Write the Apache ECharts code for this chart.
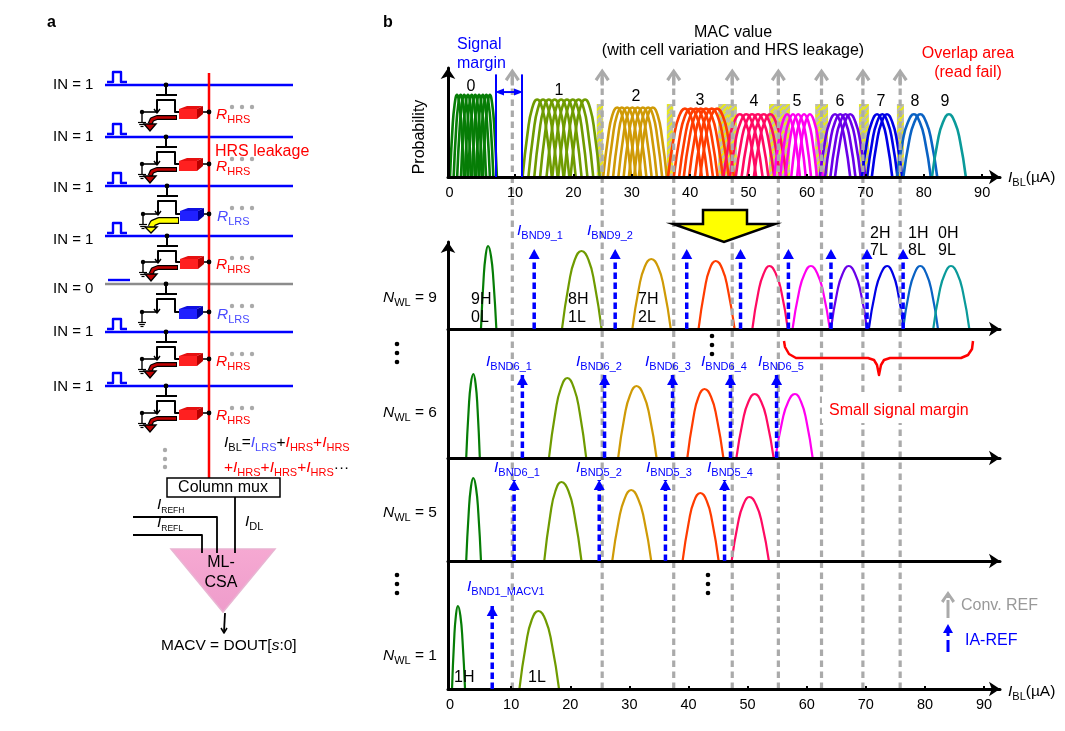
<!DOCTYPE html>
<html><head><meta charset="utf-8">
<style>html,body{margin:0;padding:0;background:#fff}#c{width:1065px;height:731px}</style>
<script src="https://cdn.jsdelivr.net/npm/echarts@6/dist/echarts.min.js"></script>
</head><body><div id="c"></div>
<script>
// ---------- data ----------
const stateColors = ['#067d06','#6f9b00','#cf9a06','#ff3c00','#ff0a62','#ff00f0','#6a00e8','#0000e6','#0a62c4','#0a9a9a'];
const axisTicks = [10,20,30,40,50,60,70,80,90];
const axisTickLabels = [0,10,20,30,40,50,60,70,80,90];
// top panel: curve centres (uA) of each MAC value and the profile of one curve (offset uA, probability)
const topCentres = [
 [0.07,0.7,1.3,1.95,2.6,3.2,3.85,4.5,5.1,5.7],
 [13.8,14.8,15.8,16.8,17.9,18.9,19.9,20.9,22.0],
 [27.5,28.3,29.2,30.1,31.0,31.9,32.8,33.6],
 [39.1,40.1,41.0,41.8,42.7,43.7,44.6],
 [48.5,49.6,50.6,51.6,52.6,53.7],
 [56.6,57.6,58.5,59.5,60.5],
 [64.8,65.7,66.6,67.4],
 [72.0,72.9,73.7],
 [78.3,79.4],
 [84.3]];
const topProfiles = [
 [[-1.2,0],[-.78,.42],[-.42,.63],[0,.72],[.42,.63],[.78,.42],[1.2,0]],
 [[-2.5,0],[-1.63,.39],[-.88,.60],[0,.68],[.88,.60],[1.63,.39],[2.5,0]],
 [[-2.4,0],[-1.56,.35],[-.84,.54],[0,.61],[.84,.54],[1.56,.35],[2.4,0]],
 [[-2.9,0],[-1.89,.35],[-1.02,.53],[0,.60],[1.02,.53],[1.89,.35],[2.9,0]],
 [[-2.8,0],[-1.82,.32],[-.98,.48],[0,.55],[.98,.48],[1.82,.32],[2.8,0]],
 [[-2.2,0],[-1.43,.32],[-.77,.48],[0,.55],[.77,.48],[1.43,.32],[2.2,0]],
 [[-2.6,0],[-1.69,.32],[-.91,.48],[0,.55],[.91,.48],[1.69,.32],[2.6,0]],
 [[-2.6,0],[-1.69,.32],[-.91,.48],[0,.55],[.91,.48],[1.69,.32],[2.6,0]],
 [[-2.9,0],[-1.89,.32],[-1.02,.48],[0,.55],[1.02,.48],[1.89,.32],[2.9,0]],
 [[-2.9,0],[-1.89,.32],[-1.02,.48],[0,.55],[1.02,.48],[1.89,.32],[2.9,0]]];
const overlapAreas = [[24.0,25.1,.64],[36.0,37.1,.64],[44.8,48.0,.64],[53.5,57.1,.64],[61.4,63.6,.64],[68.9,70.6,.64],[75.4,76.6,.64]];
const marginLines = [6.75,11.2];
const marginHeight = .90;
const marginArrowLevel = .745;
// lower panels: x and probability of each curve, one row per MAC value
const nwl9X = [
 [4.9,5.32,5.68,6.1,6.59,7.01,7.5],
 [18.6,19.76,20.75,21.9,23.09,24.11,25.3],
 [30.5,31.62,32.58,33.7,34.86,35.85,37],
 [41.7,42.72,43.59,44.6,45.72,46.68,47.8],
 [50.8,51.82,52.69,53.7,54.79,55.72,56.8],
 [57.6,58.69,59.62,60.7,61.82,62.78,63.9],
 [64.1,65.15,66.05,67.1,68.19,69.12,70.2],
 [70.5,71.59,72.52,73.6,74.58,75.42,76.4],
 [76.3,77.32,78.19,79.2,80.25,81.15,82.2],
 [81.4,82.45,83.35,84.4,85.49,86.42,87.5]];
const nwl9Y = [
 [0,.48,.73,.83,.73,.48,0],
 [0,.45,.69,.78,.69,.45,0],
 [0,.41,.62,.70,.62,.41,0],
 [0,.39,.60,.68,.60,.39,0],
 [0,.37,.55,.63,.55,.37,0],
 [0,.37,.55,.63,.55,.37,0],
 [0,.37,.55,.63,.55,.37,0],
 [0,.37,.55,.63,.55,.37,0],
 [0,.37,.55,.63,.55,.37,0],
 [0,.37,.55,.63,.55,.37,0]];
const nwl6X = [
 [2.4,2.82,3.18,3.6,3.99,4.32,4.7],
 [16.4,17.49,18.42,19.5,20.62,21.58,22.7],
 [28.1,29.19,30.12,31.2,32.39,33.41,34.6],
 [39.8,40.82,41.69,42.7,43.82,44.78,45.9],
 [48.1,49.19,50.12,51.2,52.32,53.28,54.4],
 [54.7,55.86,56.85,58,59.05,59.95,61]];
const nwl6Y = [
 [0,.49,.74,.84,.74,.49,0],
 [0,.46,.70,.80,.70,.46,0],
 [0,.42,.63,.72,.63,.42,0],
 [0,.40,.61,.69,.61,.40,0],
 [0,.37,.56,.64,.56,.37,0],
 [0,.37,.56,.64,.56,.37,0]];
const nwl5X = [
 [2.4,2.82,3.18,3.6,4.06,4.45,4.9],
 [15.6,16.62,17.49,18.5,19.69,20.71,21.9],
 [27.1,28.22,29.18,30.3,31.49,32.51,33.7],
 [39,40.05,40.95,42,43.09,44.02,45.1],
 [47.3,48.35,49.25,50.3,51.46,52.45,53.6]];
const nwl5Y = [
 [0,.48,.73,.83,.73,.48,0],
 [0,.46,.70,.79,.70,.46,0],
 [0,.41,.62,.71,.62,.41,0],
 [0,.39,.60,.68,.60,.39,0],
 [0,.37,.56,.64,.56,.37,0]];
const nwl1X = [
 [0,.35,.65,1,1.42,1.78,2.2],
 [11.4,12.52,13.48,14.6,15.82,16.88,18.1]];
const nwl1Y = [
 [0,.48,.73,.83,.73,.48,0],
 [0,.45,.69,.78,.69,.45,0]];
const iaRef9 = [13.9,27.6,39.7,48.8,56.9,64.1,70.2,76.3];
const iaRef6 = [11.9,25.8,37.3,47.1,54.9];
const iaRef5 = [10.5,24.9,36.1,46.1];
const iaRef1 = [6.8];
const iaHeights = [.80,.83,.81,.83];
const convRef = [10.2,25.4,37.5,47.4,55.2,62.5,69.5,75.8];

// ---------- chart ----------
const FONT = '"Liberation Sans",Arial,sans-serif';
const BLUE='#0000ff', RED='#ff0000', GRAY='#aaaaaa';
const hatch = document.createElement('canvas'); hatch.width=8; hatch.height=8;
(function(){const g=hatch.getContext('2d');g.fillStyle='#e9ec10';g.fillRect(0,0,8,8);g.strokeStyle='#bdbdb0';g.lineWidth=2.4;
 [[-2,4,4,-2],[0,8,8,0],[4,10,10,4]].forEach(l=>{g.beginPath();g.moveTo(l[0],l[1]);g.lineTo(l[2],l[3]);g.stroke();});})();

const xBase = {type:'value',splitLine:{show:false},axisTick:{show:false},axisLabel:{show:false},z:5,
  axisLine:{show:true,onZero:false,symbol:['none','arrow'],symbolSize:[11,11],lineStyle:{color:'#000',width:3}}};
const yBase = (arrow,max)=>({type:'value',min:0,max:max,splitLine:{show:false},axisTick:{show:false},axisLabel:{show:false},z:5,
  axisLine:{show:true,onZero:false,symbol:arrow?['none','arrow']:'none',symbolSize:[11,11],lineStyle:{color:'#000',width:3}}});
const labelled = pad => ({
  axisTick:{show:true,inside:true,length:3,customValues:axisTicks,lineStyle:{color:'#000',width:2}},
  axisLabel:{show:true,margin:8,color:'#000',fontSize:14.5,fontFamily:FONT,customValues:axisTickLabels,
    formatter:v=>v===0?'{z|0}':String(v),rich:{z:{fontSize:14.5,fontFamily:FONT,color:'#000',padding:[0,pad,0,0]}}}
});
const TMIN=-1.47,TMAX=93.05,BMIN=-0.68,BMAX=92.69;
const grids=[[68,109],[242,87],[329,129],[458,103],[561,128],[77,612]].map(g=>({left:448,width:552,top:g[0],height:g[1]}));
const xAxes=[
 Object.assign({},xBase,{gridIndex:0,min:TMIN,max:TMAX},labelled(14)),
 Object.assign({},xBase,{gridIndex:1,min:BMIN,max:BMAX}),
 Object.assign({},xBase,{gridIndex:2,min:BMIN,max:BMAX}),
 Object.assign({},xBase,{gridIndex:3,min:BMIN,max:BMAX}),
 Object.assign({},xBase,{gridIndex:4,min:BMIN,max:BMAX},labelled(4)),
 {type:'value',gridIndex:5,min:BMIN,max:BMAX,show:false}
];
const yAxes=[
 Object.assign(yBase(true,.956),{gridIndex:0}),
 Object.assign(yBase(true,.87),{gridIndex:1}),
 Object.assign(yBase(false,1.29),{gridIndex:2}),
 Object.assign(yBase(false,1.03),{gridIndex:3}),
 Object.assign(yBase(false,1.28),{gridIndex:4}),
 {type:'value',gridIndex:5,min:0,max:1,show:false}
];
const series=[];
const curve=(pts,color,g,w)=>series.push({type:'line',xAxisIndex:g,yAxisIndex:g,data:pts,smooth:.5,showSymbol:false,symbol:'none',clip:false,z:3,animation:false,
  lineStyle:{color:color,width:w}});
// hatch
series.push({type:'custom',xAxisIndex:0,yAxisIndex:0,z:1,clip:false,data:overlapAreas,encode:{x:[0,1],y:2},
  renderItem:(p,api)=>{const a=api.coord([api.value(0),api.value(2)]),b=api.coord([api.value(1),0]);
    return {type:'rect',shape:{x:a[0],y:a[1],width:b[0]-a[0],height:b[1]-a[1]},style:{fill:{image:hatch,repeat:'repeat'}}};}});
// top curves
topCentres.forEach((cs,k)=>cs.forEach(c=>curve(topProfiles[k].map(p=>[c+p[0],p[1]]),stateColors[k],0,2.6)));
[[nwl9X,nwl9Y],[nwl6X,nwl6Y],[nwl5X,nwl5Y],[nwl1X,nwl1Y]].forEach((set,i)=>set[0].forEach((xs,k)=>curve(xs.map((x,j)=>[x,set[1][k][j]]),stateColors[k],i+1,2.2)));
// Conv REF
const chevron='path://M0,10 L7,0 L14,10 L11.5,12 L8.5,7 L8.5,16 L5.5,16 L5.5,7 L2.5,12 Z';
convRef.forEach(v=>series.push({type:'line',xAxisIndex:5,yAxisIndex:5,data:[[v,0],[v,1]],z:4,animation:false,
  symbol:(val,p)=>p.dataIndex===1?chevron:'none',symbolSize:[15,17],showAllSymbol:true,itemStyle:{color:GRAY},
  lineStyle:{color:GRAY,width:3.2,type:[6.5,4.5]}}));
// IA REF
[iaRef9,iaRef6,iaRef5,iaRef1].forEach((set,i)=>set.forEach(v=>series.push({type:'line',xAxisIndex:i+1,yAxisIndex:i+1,data:[[v,0],[v,iaHeights[i]]],z:6,animation:false,
  symbol:(val,p)=>p.dataIndex===1?'triangle':'none',symbolSize:[11,10],symbolOffset:[0,'50%'],showAllSymbol:true,itemStyle:{color:BLUE},
  lineStyle:{color:BLUE,width:3.5,type:[6.5,3.5]}})));
// signal margin
marginLines.forEach(v=>series.push({type:'line',xAxisIndex:0,yAxisIndex:0,data:[[v,0],[v,marginHeight]],symbol:'none',z:6,animation:false,lineStyle:{color:BLUE,width:2}}));
series.push({type:'line',xAxisIndex:0,yAxisIndex:0,data:[[marginLines[0]+.6,marginArrowLevel],[marginLines[1]-.6,marginArrowLevel]],z:6,animation:false,
  symbol:'triangle',symbolSize:[7,9],showAllSymbol:true,symbolRotate:(v,p)=>p.dataIndex===0?90:-90,itemStyle:{color:BLUE},lineStyle:{color:BLUE,width:2}});

// ---------- annotations and schematic ----------
const rich={};
[['k','#000'],['b',BLUE],['r',RED],['l','#4a4aff']].forEach(c=>{
  rich['i'+c[0]]={fontFamily:FONT,fontStyle:'italic',fontSize:15.5,lineHeight:20,fill:c[1]};
  rich['n'+c[0]]={fontFamily:FONT,fontSize:15.5,lineHeight:20,fill:c[1]};
  rich['s'+c[0]]={fontFamily:FONT,fontSize:11,verticalAlign:'bottom',fill:c[1]};
  rich['t'+c[0]]={fontFamily:FONT,fontSize:8.5,verticalAlign:'bottom',fill:c[1]};
});
const gr=[];
const Z=100;
const text=(x,y,s,color,opt)=>gr.push(Object.assign({type:'text',z:Z,silent:true,style:Object.assign({x,y,text:s,fill:color||'#000',fontFamily:FONT,fontSize:16,align:'left',verticalAlign:'middle'},opt||{})}));
const rtext=(x,y,s)=>gr.push({type:'text',z:Z,silent:true,style:{x,y,text:s,rich,align:'left',verticalAlign:'middle',fontFamily:FONT,fontSize:15}});
const pl=(pts,color,w,z)=>gr.push({type:'polyline',z:z||Z,silent:true,shape:{points:pts},style:{stroke:color,lineWidth:w,fill:null,lineJoin:'round'}});
const pg=(pts,fill,stroke,w,z)=>gr.push({type:'polygon',z:z||Z,silent:true,shape:{points:pts},style:{fill,stroke:stroke||null,lineWidth:w||0}});
const dot=(x,y,r,c)=>gr.push({type:'circle',z:Z+2,silent:true,shape:{cx:x,cy:y,r},style:{fill:c||'#000'}});

// panel letters
text(47,23,'a','#000',{fontWeight:'bold',fontSize:16});
text(383,23,'b','#000',{fontWeight:'bold',fontSize:16});
// white gap behind label, yellow arrow
gr.push({type:'rect',z:Z-1,silent:true,shape:{x:822,y:392,width:152,height:31},style:{fill:'#fff'}});
pg([[703,210],[747,210],[747,224],[775,224],[724,242],[673,224],[703,224]],'#ffff00','#000',2.5);
// panel b texts
text(733,33,'MAC value','#000',{align:'center'});
text(733,51,'(with cell variation and HRS leakage)','#000',{align:'center'});
text(457,45,'Signal',BLUE); text(457,64,'margin',BLUE);
text(968,54,'Overlap area',RED,{align:'center'}); text(968,73,'(read fail)',RED,{align:'center'});
gr.push({type:'text',z:Z,silent:true,x:420,y:137,rotation:Math.PI/2,style:{x:0,y:0,text:'Probability',fill:'#000',fontFamily:FONT,fontSize:16,align:'center',verticalAlign:'middle'}});
[[471,87,'0'],[559,91,'1'],[636,97,'2'],[700,101,'3'],[754,102,'4'],[797,102,'5'],[840,102,'6'],[881,102,'7'],[915,102,'8'],[945,102,'9']]
  .forEach(a=>text(a[0],a[1],a[2],'#000',{align:'center'}));
rtext(1008,178,'{ik|I}{sk|BL}{nk|(µA)}');
rtext(1008,692,'{ik|I}{sk|BL}{nk|(µA)}');
[[471,300,'9H'],[471,318,'0L'],[568,300,'8H'],[568,318,'1L'],[638,300,'7H'],[638,318,'2L'],[870,234,'2H'],[870,251,'7L'],[908,234,'1H'],[908,251,'8L'],[938,234,'0H'],[938,251,'9L'],[454,678,'1H'],[528,678,'1L']]
  .forEach(a=>text(a[0],a[1],a[2]));
[[517,231,'BND9_1'],[587,231,'BND9_2'],[486,362,'BND6_1'],[576,362,'BND6_2'],[645,362,'BND6_3'],[701,362,'BND6_4'],[758,362,'BND6_5'],
 [494,468,'BND6_1'],[576,468,'BND5_2'],[646,468,'BND5_3'],[707,468,'BND5_4'],[467,587,'BND1_MACV1']]
 .forEach(a=>rtext(a[0],a[1],'{ib|I}{sb|'+a[2]+'}'));
[[298,'9'],[413,'6'],[513,'5'],[656,'1']].forEach(a=>rtext(383,a[0],'{ik|N}{sk|WL}{nk| = '+a[1]+'}'));
[[397,344],[397,353],[397,362],[397,575],[397,584],[397,593],[712,336],[712,345],[712,354],[708,575],[708,584],[708,593]].forEach(a=>dot(a[0],a[1],2.3));
text(829,411,'Small signal margin',RED);
pl([[784,341],[785,347],[789,354],[796,358],[868,358],[874,360],[877,365],[879,375],[881,365],[884,360],[890,358],[961,358],[968,355],[972,349],[973,341]],RED,2.5);
// legend
pl([[948,600],[948,618]],'#aaa',3);
pg([[948,591],[955,601],[952.5,603],[949.5,598],[946.5,598],[943.5,603],[941,601]],'#aaa');
text(961,606,'Conv. REF','#999');
pl([[948,630],[948,636]],BLUE,3);
pl([[948,640],[948,652]],BLUE,3);
pg([[948,624],[953,633],[943,633]],BLUE);
text(965,641,'IA-REF',BLUE);

// panel a
const wordLines=[[85,'b'],[137,'b'],[186,'b'],[236,'b'],[284,'g'],[332,'b'],[386,'b']];
wordLines.forEach(w=>pl([[105,w[0]],[293,w[0]]],w[1]==='b'?BLUE:'#8c8c8c',2.5,90));
pl([[209,73],[209,478]],RED,2.5,91);
[[85,85],[137,137],[188,186],[240,236],[289,284],[332,332],[387,386]].forEach((a,i)=>text(53,a[0],'IN = '+(i===4?'0':'1'),'#000',{fontSize:15}));
[85,137,186,236,332,386].forEach(W=>pl([[107,W-3],[113,W-3],[113,W-13],[121,W-13],[121,W-3],[127,W-3]],BLUE,2.4));
pl([[108,280],[130,280]],BLUE,2.4);
const cell=(W,dy,type,cur,dx)=>{
  const Y=W+dy, x=v=>v+dx;
  pl([[x(166),W],[x(166),W+10]],'#000',2);
  pl([[x(156),W+10],[x(177),W+10]],'#000',2);
  pl([[x(157),Y],[x(157),W+15],[x(175),W+15],[x(175),Y],[x(180),Y]],'#000',2);
  pl([[x(142),Y],[x(157),Y]],'#000',1.6);
  pl([[x(154),Y-3],[x(157),Y+1],[x(160),Y-3]],'#000',1.4);
  pl([[x(142),Y],[x(142),Y+10]],'#000',1.4);
  [[4,10.5],[2.8,12.5],[1.5,14.5]].forEach(g=>pl([[x(142-g[0]),Y+g[1]],[x(142+g[0]),Y+g[1]]],'#000',1.2));
  const c=type==='H'?['#ff2020','#e61010','#b80000']:['#2020ff','#1010e0','#0000a0'];
  pg([[x(187),Y-6],[x(203),Y-6],[x(197),Y-3],[x(179),Y-3]],c[1]);
  pg([[x(179),Y-3],[x(197),Y-3],[x(197),Y+7],[x(179),Y+7]],c[0]);
  pg([[x(197),Y-3],[x(203),Y-6],[x(203),Y+2],[x(197),Y+7]],c[2]);
  pl([[x(203),Y],[209,Y]],'#000',1.6);
  dot(x(142),Y,2.2); dot(x(166),W,2.4); dot(209,Y,2.4);
  [232,242,252].forEach(g=>dot(g,W+22,2.2,'#aaa'));
  if(cur==='r'){
    pl([[x(177),Y+5.5],[x(157),Y+5.5],[x(152),Y+7.5],[x(150),Y+12]],'#000',5,Z+3);
    pl([[x(176),Y+5.5],[x(157),Y+5.5],[x(152),Y+7.5],[x(150),Y+12]],'#c00000',2.6,Z+3);
    pg([[x(144),Y+12],[x(156),Y+12],[x(150),Y+19]],'#c00000','#000',1.4,Z+3);
  }
  if(cur==='y'){
    pl([[x(178),Y+6.5],[x(158),Y+6.5],[x(152),Y+9],[x(150),Y+13]],'#000',7,Z+3);
    pl([[x(177),Y+6.5],[x(158),Y+6.5],[x(152),Y+9],[x(150),Y+13]],'#ffff00',4.6,Z+3);
    pg([[x(144),Y+13],[x(156),Y+13],[x(150),Y+19]],'#ffff00','#000',1.4,Z+3);
  }
  if(type==='H') rtext(216,W+dy+3,'{ir|R}{sr|HRS}');
  else rtext(217,W+dy+3,'{il|R}{sl|LRS}');
};
cell(85,27,'H','r',0);cell(137,27,'H','r',0);cell(186,28,'L','y',1);cell(236,26,'H','r',1);cell(284,28,'L','',0);cell(332,27,'H','r',0);cell(386,27,'H','r',0);
text(215,152,'HRS leakage',RED);
rtext(224,443,'{ik|I}{sk|BL}{nk|=}{il|I}{sl|LRS}{nk|+}{ir|I}{sr|HRS}{nr|+}{ir|I}{sr|HRS}');
rtext(224,468,'{nr|+}{ir|I}{sr|HRS}{nr|+}{ir|I}{sr|HRS}{nr|+}{ir|I}{sr|HRS}{nk|···}');
[450,459,467].forEach(y=>dot(165,y,2.2,'#aaa'));
gr.push({type:'rect',z:Z,silent:true,shape:{x:167,y:478,width:113,height:19},style:{fill:'#fff',stroke:'#000',lineWidth:1.5}});
text(223,488,'Column mux','#000',{align:'center'});
gr.push({type:'polygon',z:Z-2,silent:true,shape:{points:[[171,549],[275,549],[223,612]]},style:{
  fill:{type:'linear',x:0,y:0,x2:0,y2:1,colorStops:[{offset:0,color:'#f6a9d2'},{offset:1,color:'#ee9ccb'}]},stroke:'#e9b4d2',lineWidth:1.5}});
pl([[235,497],[235,553]],'#000',1.8);
pl([[133,517],[217,517],[217,553]],'#000',1.8);
pl([[133,535],[202,535],[202,553]],'#000',1.8);
rtext(157,505,'{ik|I}{tk|REFH}');
rtext(157,523,'{ik|I}{tk|REFL}');
rtext(245,522,'{ik|I}{sk|DL}');
text(221,563,'ML-','#000',{align:'center'});
text(221,583,'CSA','#000',{align:'center'});
pl([[225,613],[224,632]],'#000',1.8);
pl([[221,628],[224,633],[227,628]],'#000',1.5);
rtext(161,646,'{nk|MACV = DOUT[}{ik|s}{nk|:0]}');

const chart=echarts.init(document.getElementById('c'),null,{renderer:'canvas'});
chart.setOption({animation:false,backgroundColor:'#fff',textStyle:{fontFamily:FONT},grid:grids,xAxis:xAxes,yAxis:yAxes,series:series,graphic:{elements:gr}});
</script></body></html>
